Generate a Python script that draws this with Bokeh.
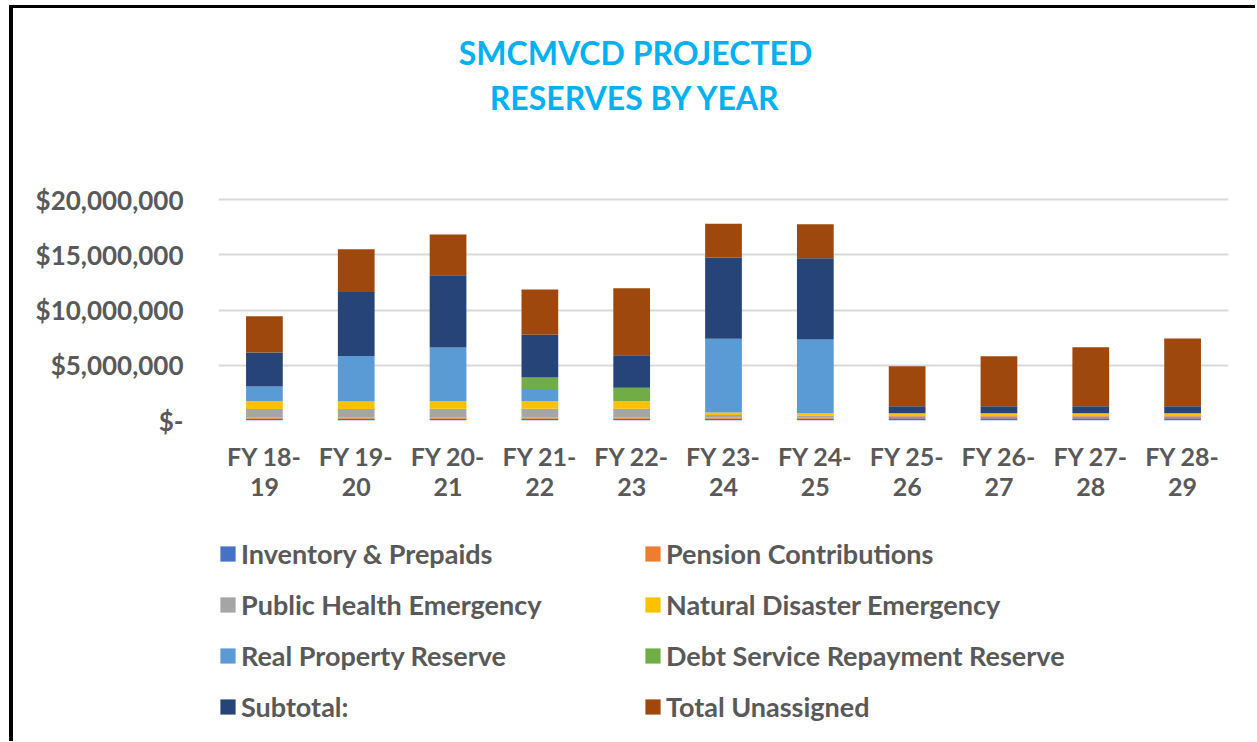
from bokeh.plotting import figure
from bokeh.models import Legend, LegendItem, FixedTicker, NumeralTickFormatter, Range1d, Label
from bokeh.layouts import column
from bokeh.embed import file_html
from bokeh.resources import INLINE

categories = ["FY 18-\n19", "FY 19-\n20", "FY 20-\n21", "FY 21-\n22", "FY 22-\n23", "FY 23-\n24",
              "FY 24-\n25", "FY 25-\n26", "FY 26-\n27", "FY 27-\n28", "FY 28-\n29"]

inventory = [150000, 150000, 150000, 150000, 150000, 150000, 150000, 200000, 200000, 200000, 200000]
pension = [120000, 120000, 120000, 120000, 120000, 120000, 120000, 180000, 180000, 180000, 180000]
public_health = [760000, 760000, 800000, 800000, 800000, 220000, 190000, 100000, 100000, 100000, 100000]
natural_disaster = [720000, 700000, 680000, 680000, 680000, 230000, 200000, 170000, 170000, 170000, 170000]
real_property = [1330000, 4100000, 4850000, 1090000, 0, 6670000, 6670000, 0, 0, 0, 0]
debt_service = [0, 0, 0, 1050000, 1210000, 0, 0, 0, 0, 0, 0]
subtotal = [3070000, 5800000, 6550000, 3860000, 2950000, 7360000, 7360000, 650000, 650000, 650000, 650000]
unassigned = [3290000, 3870000, 3680000, 4100000, 6060000, 3050000, 3080000, 3620000, 4520000, 5340000, 6120000]

series_names = ["Inventory & Prepaids", "Pension Contributions", "Public Health Emergency",
                "Natural Disaster Emergency", "Real Property Reserve", "Debt Service Repayment Reserve",
                "Subtotal:", "Total Unassigned"]
colors = ["#4472C4", "#ED7D31", "#A5A5A5", "#FFC000", "#5B9BD5", "#70AD47", "#264478", "#9E480E"]
y_ticks = [0, 5000000, 10000000, 15000000, 20000000]
title_lines = ["SMCMVCD PROJECTED", "RESERVES BY YEAR"]

keys = ["inv", "pen", "ph", "nd", "rp", "ds", "sub", "un"]
data = dict(cat=categories, inv=inventory, pen=pension, ph=public_health, nd=natural_disaster,
            rp=real_property, ds=debt_service, sub=subtotal, un=unassigned)

FONT = "Lato"
GRAY = "#595959"
W = 1242

# Main chart: frame extends to the top of the canvas so the title can sit inside it.
PX_PER_UNIT = 221 / 20000000
y_top = 20000000 + 191 / PX_PER_UNIT
p = figure(x_range=categories, y_range=Range1d(0, y_top), width=W, height=505,
           output_backend="svg", toolbar_location=None, title=None,
           min_border_left=205, min_border_top=0, min_border_right=27, min_border_bottom=93)
p.outline_line_color = None

renderers = p.vbar_stack(keys, x="cat", width=0.4, fill_color=colors, line_color=None, source=data)

p.xgrid.grid_line_color = None
p.ygrid.grid_line_color = "#D9D9D9"
p.ygrid.grid_line_width = 2

p.yaxis.ticker = FixedTicker(ticks=y_ticks)
p.yaxis.formatter = NumeralTickFormatter(format="$0,0")
p.yaxis.major_label_overrides = {0: "$-"}
for ax in (p.xaxis, p.yaxis):
    ax.axis_line_color = None
    ax.major_tick_line_color = None
    ax.minor_tick_line_color = None
    ax.major_tick_out = 0
    ax.major_tick_in = 0
    ax.major_label_text_font = FONT
    ax.major_label_text_font_style = "bold"
    ax.major_label_text_color = GRAY
p.yaxis.major_label_text_font_size = "26px"
p.xaxis.major_label_text_font_size = "25px"
p.yaxis.major_label_standoff = 35
p.xaxis.major_label_standoff = 20
p.xaxis.major_label_text_line_height = 1.0

for txt, yy in zip(title_lines, (368, 323)):
    p.add_layout(Label(x=417, y=yy, x_units="screen", y_units="screen", text=txt,
                       text_align="center", text_baseline="middle", text_font=FONT,
                       text_font_style="bold", text_font_size="32px", text_color="#00B0F0"))

# Legend panel below the chart (proxy renderers of zero size carry the legend swatches)
lf = figure(width=W, height=228, output_backend="svg", toolbar_location=None, title=None,
            x_range=Range1d(0, 1), y_range=Range1d(0, 1),
            x_axis_location=None, y_axis_location=None,
            min_border_left=0, min_border_right=0, min_border_top=0, min_border_bottom=0)
lf.outline_line_color = None
lf.xgrid.visible = False
lf.ygrid.visible = False
proxies = [lf.vbar(x=[0], top=[0], bottom=[0], width=0, fill_color=c, line_color=None) for c in colors]

for idxs, xloc in (([0, 2, 4, 6], 0), ([1, 3, 5, 7], 425)):
    items = [LegendItem(label=series_names[i], renderers=[proxies[i]]) for i in idxs]
    leg = Legend(items=items, location=(xloc, 18), orientation="vertical",
                 glyph_width=19, glyph_height=19, label_standoff=4, spacing=18,
                 label_height=32, padding=0, margin=0,
                 border_line_color=None, background_fill_alpha=0,
                 label_text_font=FONT, label_text_font_style="bold",
                 label_text_font_size="27px", label_text_color=GRAY)
    lf.add_layout(leg, "center")

layout = column(p, lf, spacing=0)
layout.margin = (5, 0, 0, 9)
layout.styles = {"border-left": "4px solid black", "border-top": "3px solid black"}

open("out.html", "w").write(file_html(layout, INLINE))
